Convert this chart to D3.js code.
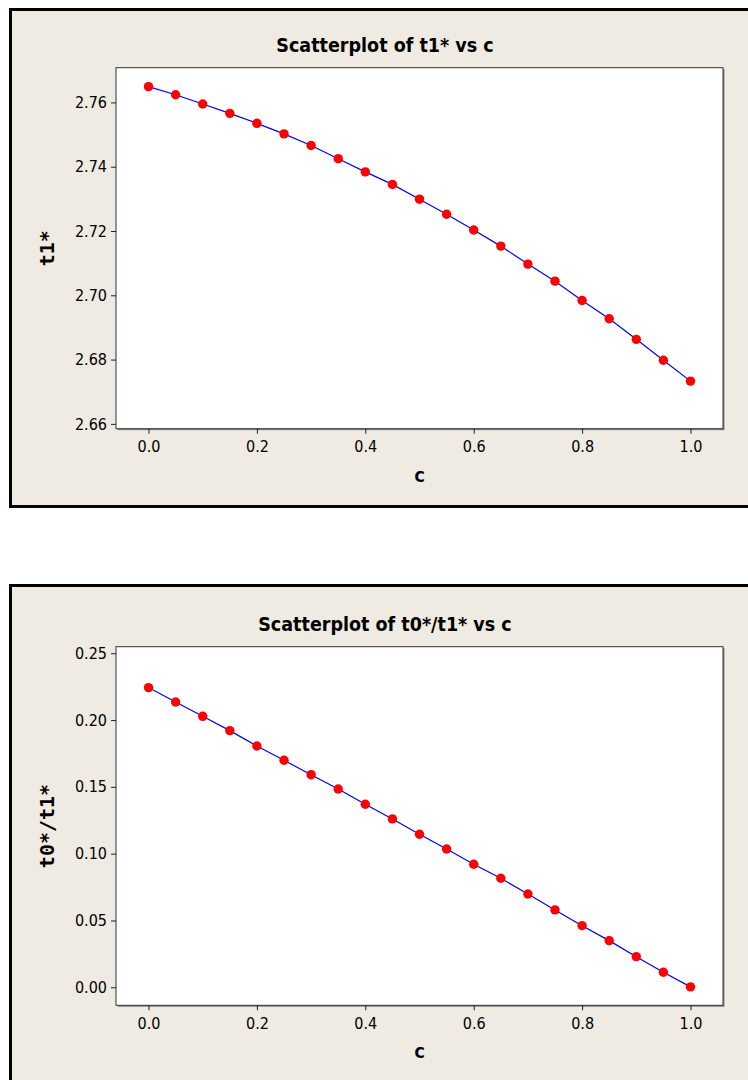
<!DOCTYPE html>
<html>
<head>
<meta charset="utf-8">
<script src="https://cdn.jsdelivr.net/npm/d3@7"></script>
<style>
body { margin: 0; background: #fff; }
.tick text { font-family: "DejaVu Sans Condensed", "DejaVu Sans", sans-serif; font-stretch: condensed; font-size: 16px; fill: #000; }
.tick line { stroke: #222; }
</style>
</head>
<body>
<div id="chart"></div>
<script>
var cValues = [0.00, 0.05, 0.10, 0.15, 0.20, 0.25, 0.30, 0.35, 0.40, 0.45, 0.50,
               0.55, 0.60, 0.65, 0.70, 0.75, 0.80, 0.85, 0.90, 0.95, 1.00];
var t1Values = [2.7649, 2.7624, 2.7595, 2.7566, 2.7535, 2.7502, 2.7466, 2.7425, 2.7384, 2.7345, 2.7299,
                2.7252, 2.7203, 2.7153, 2.7097, 2.7044, 2.6984, 2.6927, 2.6863, 2.6798, 2.6733];
var ratioValues = [0.2243, 0.2135, 0.2028, 0.1921, 0.1806, 0.1699, 0.1591, 0.1484, 0.1370, 0.1260, 0.1145,
                   0.1035, 0.0921, 0.0816, 0.0698, 0.0579, 0.0461, 0.0349, 0.0229, 0.0112, 0.0003];
var cTicks = [0.0, 0.2, 0.4, 0.6, 0.8, 1.0];
var t1Ticks = [2.66, 2.68, 2.70, 2.72, 2.74, 2.76];
var ratioTicks = [0.00, 0.05, 0.10, 0.15, 0.20, 0.25];

window.scatter = {};

scatter.Graph = function() {
    this.options = {};
    this.ctx = null;
};

scatter.Graph.prototype = {
    constructor: scatter.Graph,
    setTitle: function(t) { this.options.title = t; return this; },
    setXLabel: function(t) { this.options.xLabel = t; return this; },
    setYLabel: function(t) { this.options.yLabel = t; return this; },
    setXDomain: function(d) { this.options.xDomain = d; return this; },
    setYDomain: function(d) { this.options.yDomain = d; return this; },
    setXTicks: function(t) { this.options.xTicks = t; return this; },
    setYTicks: function(t) { this.options.yTicks = t; return this; },
    // panel frame: top edge and height
    setPanel: function(top, height) {
        this.options.panelTop = top;
        this.options.panelHeight = height;
        return this;
    },
    // data region box in page pixels
    setPlotBox: function(x0, y0, x1, y1) {
        this.options.box = [x0, y0, x1, y1];
        return this;
    },

    finishSetup: function(svg) {
        this.ctx = svg.append('g');
        return this;
    },

    update: function(xs, ys) {
        var o = this.options, g = this.ctx, b = o.box;
        var x = d3.scaleLinear().domain(o.xDomain).range([b[0], b[2]]);
        var y = d3.scaleLinear().domain(o.yDomain).range([b[3], b[1]]);
        var cx = (b[0] + b[2]) / 2;

        g.append('rect')
            .attr('x', 10.5).attr('y', o.panelTop)
            .attr('width', 800).attr('height', o.panelHeight)
            .attr('fill', '#EFEBE2').attr('stroke', '#000').attr('stroke-width', 3);

        // shadow then frame of data region
        g.append('rect')
            .attr('x', b[0] + 1.5).attr('y', b[1] + 1.5)
            .attr('width', b[2] - b[0]).attr('height', b[3] - b[1])
            .attr('fill', '#888');
        g.append('rect')
            .attr('x', b[0]).attr('y', b[1])
            .attr('width', b[2] - b[0]).attr('height', b[3] - b[1])
            .attr('fill', '#fff').attr('stroke', '#333').attr('stroke-width', 1);

        // Minitab centres the title on the whole (wider, cropped) graph
        g.append('text')
            .attr('x', 385).attr('y', b[1] - 16)
            .attr('text-anchor', 'middle')
            .style('font-family', '"DejaVu Sans Condensed", "DejaVu Sans", sans-serif')
            .style('font-stretch', 'condensed')
            .style('font-weight', 'bold').style('font-size', '19.5px')
            .text(o.title);

        var yAxis = g.append('g')
            .attr('transform', 'translate(' + b[0] + ',0)')
            .call(d3.axisLeft(y).tickValues(o.yTicks).tickSize(5).tickPadding(4)
                .tickFormat(d3.format('.2f')));
        yAxis.select('.domain').remove();

        var xAxis = g.append('g')
            .attr('transform', 'translate(0,' + b[3] + ')')
            .call(d3.axisBottom(x).tickValues(o.xTicks).tickSize(5).tickPadding(7)
                .tickFormat(d3.format('.1f')));
        xAxis.select('.domain').remove();

        g.append('text')
            .attr('x', cx).attr('y', b[3] + 53)
            .attr('text-anchor', 'middle')
            .style('font-family', '"DejaVu Sans Mono", monospace')
            .style('font-weight', 'bold').style('font-size', '20px')
            .text(o.xLabel);

        g.append('text')
            .attr('transform', 'translate(54,' + (b[1] + b[3]) / 2 + ') rotate(-90)')
            .attr('text-anchor', 'middle')
            .style('font-family', '"DejaVu Sans Mono", monospace')
            .style('font-weight', 'bold').style('font-size', '20px')
            .text(o.yLabel);

        var pts = xs.map(function(v, i) { return [v, ys[i]]; });
        var line = d3.line().x(function(d) { return x(d[0]); }).y(function(d) { return y(d[1]); });

        g.append('path').datum(pts)
            .attr('d', line)
            .attr('fill', 'none').attr('stroke', '#0000FF').attr('stroke-width', 1.2);

        g.selectAll('circle.pt').data(pts).enter()
            .append('circle').attr('class', 'pt')
            .attr('cx', function(d) { return x(d[0]); })
            .attr('cy', function(d) { return y(d[1]); })
            .attr('r', 4.7)
            .attr('fill', '#FF0000');
        return this;
    }
};

var svg = d3.select('#chart').append('svg')
    .attr('width', 748).attr('height', 1080)
    .style('display', 'block');

new scatter.Graph()
    .setTitle('Scatterplot of t1* vs c')
    .setXLabel('c').setYLabel('t1*')
    .setXDomain([-0.06, 1.06]).setYDomain([2.6585, 2.7708])
    .setXTicks(cTicks).setYTicks(t1Ticks)
    .setPanel(9.5, 497)
    .setPlotBox(116, 67.7, 723, 428.7)
    .finishSetup(svg)
    .update(cValues, t1Values);

new scatter.Graph()
    .setTitle('Scatterplot of t0*/t1* vs c')
    .setXLabel('c').setYLabel('t0*/t1*')
    .setXDomain([-0.06, 1.06]).setYDomain([-0.0135, 0.2549])
    .setXTicks(cTicks).setYTicks(ratioTicks)
    .setPanel(585.5, 520)
    .setPlotBox(116, 646.7, 723, 1005.3)
    .finishSetup(svg)
    .update(cValues, ratioValues);
</script>
</body>
</html>
